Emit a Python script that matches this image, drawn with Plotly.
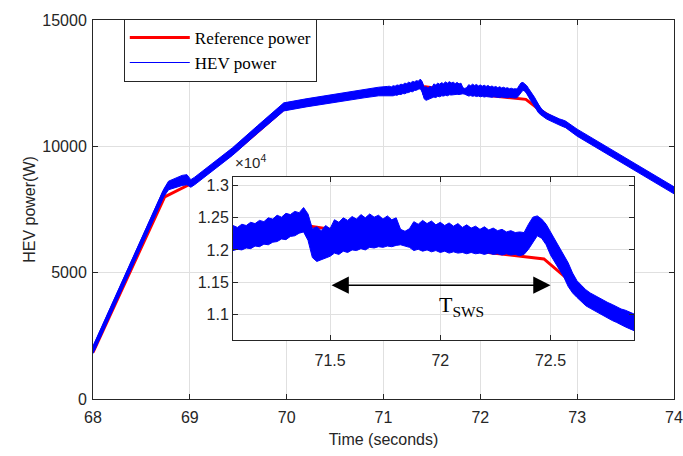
import numpy as np
import plotly.graph_objects as go

# Reference power set-point (W)
ref_time = [68.00, 68.74, 69.00, 69.45, 69.98, 70.95, 71.39, 71.41, 72.14, 72.47, 72.565, 72.60, 73.00, 74.00]
ref_power = [1850, 8000, 8500, 9750, 11500, 12150, 12450, 12370, 11990, 11860, 11585, 11480, 10540, 8260]

# HEV power, given as lower / upper envelope of the switching ripple (W)
hev_time_a = [68.00, 68.20, 68.40, 68.60, 68.73, 68.78, 68.85, 68.92, 68.97, 69.01,
              69.05, 69.20, 69.44, 69.70, 69.97, 70.20, 70.50, 70.80, 70.95, 71.04]
hev_lo_a = [1800, 3500, 5200, 6900, 8000, 8280, 8380, 8450, 8480, 8380,
            8480, 8940, 9640, 10520, 11400, 11560, 11750, 11920, 12000, 11990]
hev_hi_a = [2080, 3780, 5480, 7180, 8300, 8620, 8750, 8850, 8880, 8680,
            8780, 9220, 9940, 10820, 11720, 11880, 12070, 12260, 12340, 12370]

# finer sampling through the switching window (71.06 s ... 72.88 s, 0.02 s apart)
hev_time_b = np.round(np.arange(71.06, 72.8801, 0.02), 2).tolist()
hev_lo_b = [11990, 12010, 12000, 12030, 12020, 12060, 12050, 12090, 12080, 12120,
            12130, 12170, 12160, 12210, 12220, 12260, 12280, 12150, 11880, 11820,
            11850, 11880, 11900, 11950, 11930, 11980, 11960, 12000, 11990, 12020,
            12000, 12040, 12030, 12050, 12040, 12060, 12050, 12070, 12080, 12060,
            12040, 11990, 12010, 11980, 12000, 11970, 11990, 11960, 11980, 11950,
            11970, 11950, 11960, 11940, 11960, 11940, 11950, 11930, 11950, 11930,
            11940, 11920, 11940, 11920, 11930, 11910, 11930, 12010, 12120, 12220,
            12180, 12080, 11920, 11810, 11700, 11580, 11430, 11330, 11260, 11190,
            11130, 11090, 11050, 11010, 10970, 10940, 10900, 10870, 10830, 10800,
            10770, 10740]
hev_hi_b = [12380, 12350, 12400, 12380, 12430, 12410, 12460, 12440, 12500, 12480,
            12540, 12510, 12570, 12550, 12600, 12580, 12660, 12560, 12330, 12360,
            12300, 12380, 12330, 12470, 12430, 12500, 12460, 12520, 12480, 12550,
            12500, 12560, 12510, 12540, 12480, 12530, 12470, 12500, 12320, 12290,
            12330, 12440, 12400, 12460, 12410, 12450, 12390, 12430, 12380, 12420,
            12370, 12410, 12350, 12390, 12340, 12370, 12320, 12360, 12310, 12340,
            12300, 12320, 12280, 12300, 12270, 12280, 12270, 12400, 12510, 12530,
            12480, 12400, 12280, 12180, 12060, 11940, 11800, 11640, 11520, 11450,
            11380, 11330, 11290, 11250, 11220, 11180, 11150, 11110, 11080, 11060,
            11030, 11000]

hev_time_c = [73.00, 73.30, 73.60, 74.00]
hev_lo_c = [10400, 9720, 9040, 8120]
hev_hi_c = [10680, 10000, 9320, 8400]

hev_time = np.array(hev_time_a + hev_time_b + hev_time_c)
hev_lo = np.array(hev_lo_a + hev_lo_b + hev_lo_c, dtype=float)
hev_hi = np.array(hev_hi_a + hev_hi_b + hev_hi_c, dtype=float)
hev_mid = (hev_lo + hev_hi) / 2

# axis ticks
main_xticks = [68, 69, 70, 71, 72, 73, 74]
main_xlabels = ["68", "69", "70", "71", "72", "73", "74"]
main_yticks = [0, 5000, 10000, 15000]
main_ylabels = ["0", "5000", "10000", "15000"]
inset_xticks = [71.5, 72.0, 72.5]
inset_xlabels = ["71.5", "72", "72.5"]
inset_yticks = [11000, 11500, 12000, 12500, 13000]
inset_ylabels = ["1.1", "1.15", "1.2", "1.25", "1.3"]

RED = "#ff0000"
BLUE = "#0000ff"
INK = "#262626"
GRID = "#e0e0e0"
SANS = "Liberation Sans, Arial, sans-serif"
SERIF = "Liberation Serif, Times New Roman, serif"

fig = go.Figure()


def add_series(xa, ya, legend):
    fig.add_trace(go.Scatter(x=ref_time, y=ref_power, mode="lines", name="Reference power",
                             line=dict(color=RED, width=3), showlegend=legend,
                             xaxis=xa, yaxis=ya, hoverinfo="skip"))
    fig.add_trace(go.Scatter(x=hev_time, y=hev_hi, mode="lines", name="HEV power",
                             line=dict(color=BLUE, width=1), showlegend=legend,
                             xaxis=xa, yaxis=ya, hoverinfo="skip"))
    fig.add_trace(go.Scatter(x=hev_time, y=hev_lo, mode="lines", fill="tonexty",
                             fillcolor=BLUE, line=dict(color=BLUE, width=1),
                             showlegend=False, xaxis=xa, yaxis=ya, hoverinfo="skip"))
    fig.add_trace(go.Scatter(x=hev_time, y=hev_mid, mode="lines",
                             line=dict(color=BLUE, width=4), showlegend=False,
                             xaxis=xa, yaxis=ya, hoverinfo="skip"))


add_series("x", "y", True)
add_series("x2", "y2", False)

axis_common = dict(showgrid=True, gridcolor=GRID, gridwidth=1, showline=True,
                   linecolor=INK, linewidth=1, mirror="ticks", ticks="inside",
                   ticklen=5, tickcolor=INK, zeroline=False, ticklabeloverflow="allow",
                   automargin=False,
                   tickfont=dict(family=SANS, size=16, color=INK))

fig.update_layout(
    width=683, height=456,
    margin=dict(l=93, r=9, t=20, b=57, autoexpand=False),
    paper_bgcolor="white", plot_bgcolor="white",
    xaxis=dict(domain=[0, 1], range=[68, 74], tickvals=main_xticks, ticktext=main_xlabels,
               ticklabelstandoff=4,
               title=dict(text="Time (seconds)", font=dict(family=SANS, size=16, color=INK),
                          standoff=8),
               **axis_common),
    yaxis=dict(domain=[0, 1], range=[0, 15000], tickvals=main_yticks, ticktext=main_ylabels,
               ticklabelstandoff=2,
               title=dict(text="HEV power(W)", font=dict(family=SANS, size=16, color=INK),
                          standoff=2),
               **axis_common),
    xaxis2=dict(domain=[0.241, 0.9317], range=[71.06, 72.88], anchor="y2",
                tickvals=inset_xticks, ticktext=inset_xlabels, ticklabelstandoff=6,
                **axis_common),
    yaxis2=dict(domain=[0.1557, 0.5865], range=[10597, 13140], anchor="x2",
                tickvals=inset_yticks, ticktext=inset_ylabels, **axis_common),
    legend=dict(x=0.053, y=1.003, xanchor="left", yanchor="top", traceorder="normal",
                bgcolor="white", bordercolor=INK, borderwidth=1,
                font=dict(family=SERIF, size=17, color="black"),
                itemwidth=60, tracegroupgap=0),
    annotations=[
        dict(text="\u00d710<sup>4</sup>", xref="paper", yref="paper",
             x=0.241, y=0.627, xanchor="left", yanchor="middle", showarrow=False,
             font=dict(family=SANS, size=15, color=INK)),
        dict(text="", xref="x2", yref="y2", axref="x2", ayref="y2",
             x=72.5, y=11450, ax=71.5, ay=11450, showarrow=True,
             arrowside="end+start", arrowhead=2, startarrowhead=2,
             arrowsize=2.3, startarrowsize=2.3, arrowwidth=1.5, arrowcolor="black"),
        dict(text="T<sub>SWS</sub>", xref="x2", yref="y2", x=72.094, y=11130,
             xanchor="center", yanchor="middle", showarrow=False,
             font=dict(family=SERIF, size=22, color="black")),
    ],
)

fig.write_html("out.html")
